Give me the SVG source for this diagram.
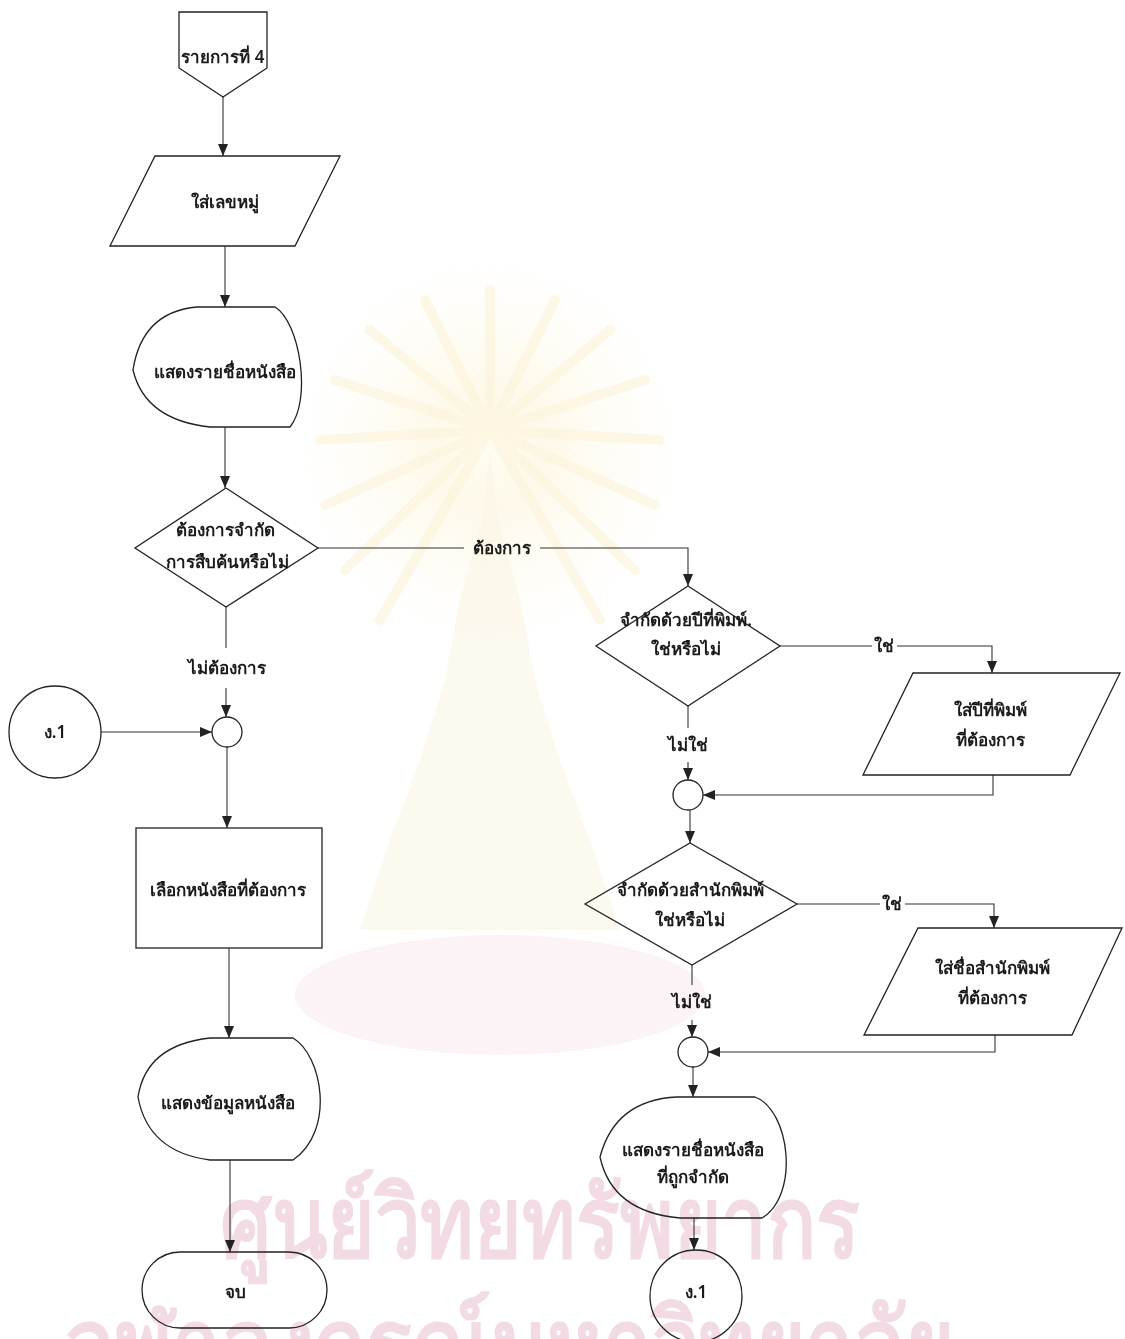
<svg xmlns="http://www.w3.org/2000/svg" width="1125" height="1339" viewBox="0 0 1125 1339">
  <style>
    .shape { fill: none; stroke: #222; stroke-width: 1.3; }
    .line { fill: none; stroke: #333; stroke-width: 1.1; }
    .arrow { marker-end: url(#ah); }
    .t { font-family: 'Noto Sans', 'Liberation Sans', sans-serif; font-size: 17px; font-weight: 600; fill: #1a1a1a; text-anchor: middle; }
    .lbl { font-family: 'Noto Sans', 'Liberation Sans', sans-serif; font-size: 17px; font-weight: 600; fill: #1a1a1a; text-anchor: middle; }
    .wm { font-family: 'Noto Sans', 'Liberation Sans', sans-serif; font-weight: bold; font-size: 98px; fill: #f3dbe5; text-anchor: middle; }
  </style>
  <defs>
    <marker id="ah" markerUnits="userSpaceOnUse" markerWidth="12" markerHeight="10" refX="12" refY="5" orient="auto">
      <path d="M0,0 L12,5 L0,10 Z" fill="#222"/>
    </marker>
    <radialGradient id="glow" cx="0.5" cy="0.5" r="0.5">
      <stop offset="0" stop-color="#fffbea" stop-opacity="1"/>
      <stop offset="0.3" stop-color="#fcf2d2" stop-opacity="0.8"/>
      <stop offset="1" stop-color="#fdf6e0" stop-opacity="0"/>
    </radialGradient>
  </defs>

  <rect x="0" y="0" width="1125" height="1339" fill="#ffffff"/>

  <g id="watermark" opacity="0.6">
    <circle cx="490" cy="450" r="190" fill="url(#glow)"/>
    <g stroke="#f9edc6" stroke-width="10" stroke-linecap="round" opacity="0.7">
      <line x1="490" y1="430" x2="490" y2="290"/>
      <line x1="490" y1="430" x2="425" y2="300"/>
      <line x1="490" y1="430" x2="555" y2="300"/>
      <line x1="490" y1="430" x2="370" y2="330"/>
      <line x1="490" y1="430" x2="610" y2="330"/>
      <line x1="490" y1="430" x2="335" y2="380"/>
      <line x1="490" y1="430" x2="645" y2="380"/>
      <line x1="490" y1="430" x2="320" y2="440"/>
      <line x1="490" y1="430" x2="660" y2="440"/>
      <line x1="490" y1="430" x2="325" y2="505"/>
      <line x1="490" y1="430" x2="655" y2="505"/>
      <line x1="490" y1="430" x2="345" y2="570"/>
      <line x1="490" y1="430" x2="635" y2="570"/>
      <line x1="490" y1="430" x2="380" y2="620"/>
      <line x1="490" y1="430" x2="600" y2="620"/>
    </g>
    <polygon points="490,450 498,520 520,600 535,680 560,760 590,840 620,930 360,930 390,840 420,760 445,680 460,600 482,520" fill="#f8efd6" opacity="0.7"/>
    <ellipse cx="500" cy="995" rx="205" ry="60" fill="#f9e6eb" opacity="0.8"/>
  </g>
  <g id="watermark-text">
    <text class="wm" x="540" y="1257" textLength="640" lengthAdjust="spacingAndGlyphs">ศูนย์วิทยทรัพยากร</text>
    <text class="wm" x="510" y="1379" textLength="890" lengthAdjust="spacingAndGlyphs">จุฬาลงกรณ์มหาวิทยาลัย</text>
  </g>

  <g id="connectors">
    <path class="line arrow" d="M223,97 V156"/>
    <path class="line arrow" d="M225,246 V307"/>
    <path class="line arrow" d="M225,427 V488"/>
    <path class="line" d="M318,548 H464"/>
    <path class="line arrow" d="M540,548 H688 V586"/>
    <path class="line" d="M226,607 V648"/>
    <path class="line arrow" d="M226,688 V717"/>
    <path class="line arrow" d="M101,732 H212"/>
    <path class="line arrow" d="M227,747 V828"/>
    <path class="line arrow" d="M229,948 V1038"/>
    <path class="line arrow" d="M230,1160 V1252"/>
    <path class="line" d="M780,646 H872"/>
    <path class="line arrow" d="M897,646 H992 V673"/>
    <path class="line arrow" d="M993,775 V795 H703"/>
    <path class="line" d="M688,706 V728"/>
    <path class="line arrow" d="M688,762 V780"/>
    <path class="line arrow" d="M690,810 V843"/>
    <path class="line" d="M797,904 H880"/>
    <path class="line arrow" d="M905,904 H994 V928"/>
    <path class="line arrow" d="M995,1035 V1052 H708"/>
    <path class="line" d="M692,965 V985"/>
    <path class="line arrow" d="M692,1020 V1037"/>
    <path class="line arrow" d="M693,1067 V1097"/>
    <path class="line arrow" d="M694,1218 V1250"/>
    <text class="lbl" x="502" y="554">ต้องการ</text>
    <text class="lbl" x="227" y="674">ไม่ต้องการ</text>
    <text class="lbl" x="884" y="652">ใช่</text>
    <text class="lbl" x="688" y="751">ไม่ใช่</text>
    <text class="lbl" x="892" y="910">ใช่</text>
    <text class="lbl" x="692" y="1008">ไม่ใช่</text>
  </g>

  <g id="start">
    <polygon class="shape" points="179,12 267,12 267,68 223,97 179,68"/>
    <text class="t" x="223" y="63">รายการที่ 4</text>
  </g>

  <g id="input-class-number">
    <polygon class="shape" points="155,156 340,156 295,246 110,246"/>
    <text class="t" x="225" y="208">ใส่เลขหมู่</text>
  </g>

  <g id="display-titles">
    <path class="shape" d="M197,307 L275,307 C300,322 312,400 290,427 L210,427 Q145,420 133,370 Q142,312 197,307 Z"/>
    <text class="t" x="225" y="378">แสดงรายชื่อหนังสือ</text>
  </g>

  <g id="decision-limit">
    <polygon class="shape" points="226,488 318,548 226,607 135,548"/>
    <text class="t" x="225" y="536">ต้องการจำกัด</text>
    <text class="t" x="227" y="568">การสืบค้นหรือไม่</text>
  </g>

  <g id="connector-in">
    <circle class="shape" cx="55" cy="732" r="46"/>
    <text class="t" x="55" y="738">ง.1</text>
  </g>

  <g id="merge-1">
    <circle class="shape" cx="227" cy="732" r="15"/>
  </g>

  <g id="select-book">
    <rect class="shape" x="136" y="828" width="186" height="120"/>
    <text class="t" x="228" y="896">เลือกหนังสือที่ต้องการ</text>
  </g>

  <g id="display-detail">
    <path class="shape" d="M210,1038 L293,1038 C322,1055 336,1130 293,1160 L210,1160 Q148,1152 138,1097 Q146,1045 210,1038 Z"/>
    <text class="t" x="228" y="1109">แสดงข้อมูลหนังสือ</text>
  </g>

  <g id="end">
    <rect class="shape" x="142" y="1252" width="185" height="76" rx="38" ry="38"/>
    <text class="t" x="235" y="1298">จบ</text>
  </g>

  <g id="decision-year">
    <polygon class="shape" points="688,586 780,646 688,706 596,646"/>
    <text class="t" x="686" y="626">จำกัดด้วยปีที่พิมพ์.</text>
    <text class="t" x="686" y="655">ใช่หรือไม่</text>
  </g>

  <g id="input-year">
    <polygon class="shape" points="913,673 1120,673 1070,775 863,775"/>
    <text class="t" x="990" y="716">ใส่ปีที่พิมพ์</text>
    <text class="t" x="990" y="746">ที่ต้องการ</text>
  </g>

  <g id="merge-2">
    <circle class="shape" cx="688" cy="795" r="15"/>
  </g>

  <g id="decision-publisher">
    <polygon class="shape" points="690,843 797,904 692,965 585,904"/>
    <text class="t" x="690" y="896">จำกัดด้วยสำนักพิมพ์</text>
    <text class="t" x="690" y="926">ใช่หรือไม่</text>
  </g>

  <g id="input-publisher">
    <polygon class="shape" points="918,928 1122,928 1072,1035 864,1035"/>
    <text class="t" x="992" y="974">ใส่ชื่อสำนักพิมพ์</text>
    <text class="t" x="992" y="1004">ที่ต้องการ</text>
  </g>

  <g id="merge-3">
    <circle class="shape" cx="693" cy="1052" r="15"/>
  </g>

  <g id="display-limited">
    <path class="shape" d="M677,1097 L755,1097 C790,1110 800,1195 762,1218 L680,1218 Q612,1212 600,1157 Q615,1100 677,1097 Z"/>
    <text class="t" x="693" y="1156">แสดงรายชื่อหนังสือ</text>
    <text class="t" x="693" y="1183">ที่ถูกจำกัด</text>
  </g>

  <g id="connector-out">
    <circle class="shape" cx="696" cy="1296" r="46"/>
    <text class="t" x="696" y="1298">ง.1</text>
  </g>
</svg>
